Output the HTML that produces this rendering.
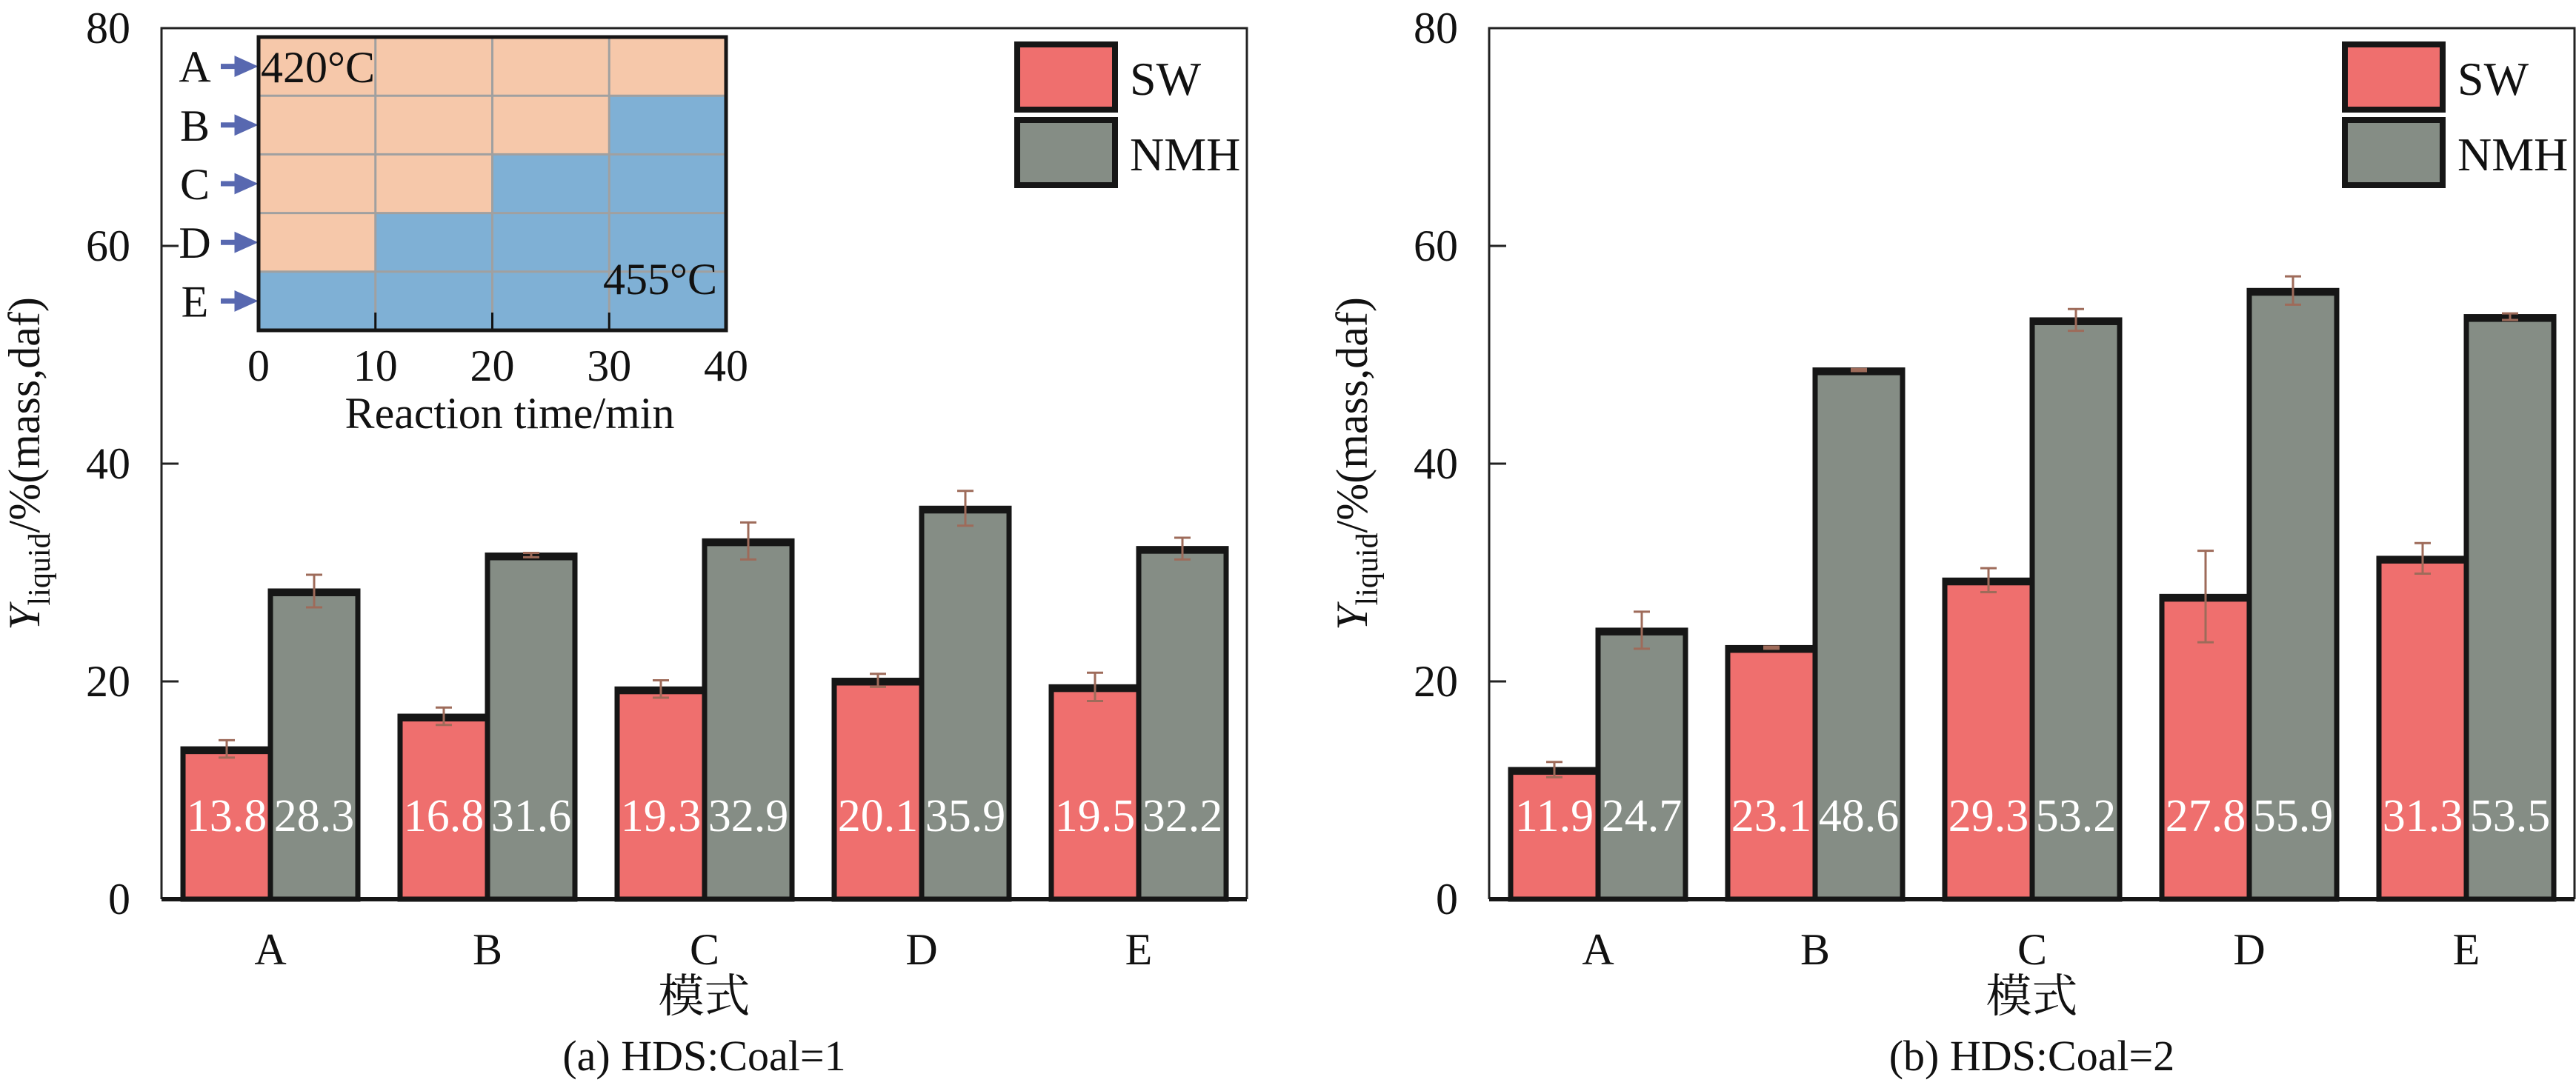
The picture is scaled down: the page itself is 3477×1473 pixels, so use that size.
<!DOCTYPE html>
<html><head><meta charset="utf-8"><style>
html,body{margin:0;padding:0;background:#fff}
svg text{font-family:"Liberation Serif","Noto Serif CJK SC",serif}
</style></head><body>
<svg id="svg" width="3477" height="1468" viewBox="0 0 3477 1468" xmlns="http://www.w3.org/2000/svg" font-family="'Liberation Serif','Noto Serif CJK SC',serif"></svg>
<script>
const categories = ["A","B","C","D","E"];
const yTicks = [0,20,40,60,80];
const swA = [13.8,16.8,19.3,20.1,19.5];
const nmhA = [28.3,31.6,32.9,35.9,32.2];
const swErrA = [0.8,0.8,0.8,0.6,1.3];
const nmhErrA = [1.5,0.2,1.7,1.6,1.0];
const swB = [11.9,23.1,29.3,27.8,31.3];
const nmhB = [24.7,48.6,53.2,55.9,53.5];
const swErrB = [0.7,0.1,1.1,4.2,1.4];
const nmhErrB = [1.7,0.1,1.0,1.3,0.3];
const insetTimeTicks = [0,10,20,30,40];
const insetSwitch = [40,30,20,10,0];

const NS="http://www.w3.org/2000/svg";
const svg=document.getElementById('svg');
const FF="'Liberation Serif','Noto Serif CJK SC',serif";
function mk(tag,attrs,parent,text){const e=document.createElementNS(NS,tag);for(const k in attrs)e.setAttribute(k,attrs[k]);if(tag==='text')e.setAttribute('font-family',FF);if(text!==undefined)e.textContent=text;(parent||svg).appendChild(e);return e;}

function chart(ox, sw, nmh, swE, nmhE, caption, key){
  const L=ox, R=ox+1465, T=38, B=1214;
  const y=v=>B-(v/80)*(B-T);
  const cx=i=>L+147+i*293;
  const g=mk('g',{});
  
  
  const fr=mk('path',{d:`M${L},${B} L${L},${T} L${R},${T} L${R},${B}`,fill:'none',stroke:'#222','stroke-width':3},g);
  
  
  yTicks.forEach(t=>{
    const tl=mk('line',{x1:L,x2:L+23,y1:y(t),y2:y(t),stroke:'#222','stroke-width':3},g);
    
    
    const tx=mk('text',{x:L-42,y:y(t)+20,'text-anchor':'end','font-size':60,fill:'#111'},g,String(t));
    
    
  });
  const yt=mk('text',{transform:`translate(${L-165},626) rotate(-90)`,'text-anchor':'middle','font-size':60,fill:'#111'},g);
  
  
  mk('tspan',{'font-style':'italic'},yt,'Y');
  mk('tspan',{'font-size':42,dy:14},yt,'liquid');
  mk('tspan',{dy:-14},yt,'/%(mass,daf)');
  const bw=118;
  categories.forEach((c,i)=>{
    [[sw[i],swE[i],'#EF6F6E',-bw,'sw'],[nmh[i],nmhE[i],'#858D85',0,'nmh']].forEach(([v,e,col,off,nm])=>{
      const x=cx(i)+off;
      const r=mk('rect',{x:x,y:y(v),width:bw,height:B-y(v),fill:col,stroke:'#161616','stroke-width':7},g);
      
      
      const tb=mk('rect',{x:x-3,y:y(v)-3,width:bw+6,height:10,fill:'#161616'},g);
      
      
      const ex=x+bw/2;
      const eb=mk('path',{d:`M${ex},${y(v+e)} L${ex},${y(v-e)} M${ex-11},${y(v+e)} L${ex+11},${y(v+e)} M${ex-11},${y(v-e)} L${ex+11},${y(v-e)}`,stroke:'#9E6B5A','stroke-width':3,fill:'none'},g);
      
      
      const vl=mk('text',{x:ex,y:1122,'text-anchor':'middle','font-size':62,fill:'#fff'},g,v.toFixed(1));
      
      
    });
    const cl=mk('text',{x:cx(i),y:1302,'text-anchor':'middle','font-size':60,fill:'#111'},g,c);
    
    
  });
  const bl=mk('line',{x1:L,x2:R,y1:B,y2:B,stroke:'#161616','stroke-width':6},g);
  
  
  const xt=mk('text',{x:(L+R)/2,y:1366,'text-anchor':'middle','font-size':62,fill:'#111'},g,'模式');
  
  
  const cp=mk('text',{x:(L+R)/2,y:1445,'text-anchor':'middle','font-size':58,fill:'#111'},g,caption);
  
  
  const lx=L+1151;
  [['SW','#EF6F6E',56],['NMH','#858D85',158]].forEach(([n,col,ly])=>{
    const lr=mk('rect',{x:lx+4,y:ly+4,width:132,height:88,fill:col,stroke:'#161616','stroke-width':8},g);
    
    
    const lt=mk('text',{x:lx+156,y:ly+72,'font-size':64,fill:'#111'},g,n);
    
    
  });
}
chart(218, swA, nmhA, swErrA, nmhErrA, '(a) HDS:Coal=1', 'left');
chart(2010, swB, nmhB, swErrB, nmhErrB, '(b) HDS:Coal=2', 'right');

(function(){
  const L=349,R=980,T=50,B=446;
  const g=mk('g',{});
  
  
  const tx=m=>L+(m/40)*(R-L);
  const rh=(B-T)/5;
  categories.forEach((c,r)=>{
    const ry=T+r*rh;
    const a=mk('rect',{x:L,y:ry,width:tx(insetSwitch[r])-L,height:rh,fill:'#F6C8AA'},g);
    
    
    const b=mk('rect',{x:tx(insetSwitch[r]),y:ry,width:R-tx(insetSwitch[r]),height:rh,fill:'#7FB0D5'},g);
    
    
    const lb=mk('text',{x:263,y:ry+rh/2+21,'text-anchor':'middle','font-size':60,fill:'#111'},g,c);
    
    
    const ar=mk('path',{d:`M298,${ry+rh/2} L322,${ry+rh/2} M320,${ry+rh/2-9} L340,${ry+rh/2} L320,${ry+rh/2+9} Z`,stroke:'#5868B0','stroke-width':7,fill:'#5868B0'},g);
    
    
  });
  for(let r=1;r<5;r++){const gl=mk('line',{x1:L,x2:R,y1:T+r*rh,y2:T+r*rh,stroke:'#A0A0A0','stroke-width':3},g);}
  insetTimeTicks.forEach(t=>{
    if(t>0&&t<40){const gl=mk('line',{x1:tx(t),x2:tx(t),y1:T,y2:B,stroke:'#A0A0A0','stroke-width':3},g);
      const tk=mk('line',{x1:tx(t),x2:tx(t),y1:B,y2:B-24,stroke:'#111','stroke-width':3},g);}
    const tl=mk('text',{x:tx(t),y:514,'text-anchor':'middle','font-size':60,fill:'#111'},g,String(t));
    
    
  });
  const bd=mk('rect',{x:L,y:T,width:R-L,height:B-T,fill:'none',stroke:'#161616','stroke-width':5},g);
  
  
  const t1=mk('text',{x:352,y:111,'font-size':60,fill:'#111'},g,'420°C');
  
  
  const t2=mk('text',{x:968,y:397,'text-anchor':'end','font-size':60,fill:'#111'},g,'455°C');
  
  
  const xt=mk('text',{x:688,y:578,'text-anchor':'middle','font-size':60,fill:'#111'},g,'Reaction time/min');
  
  
})();
</script>
</body></html>
